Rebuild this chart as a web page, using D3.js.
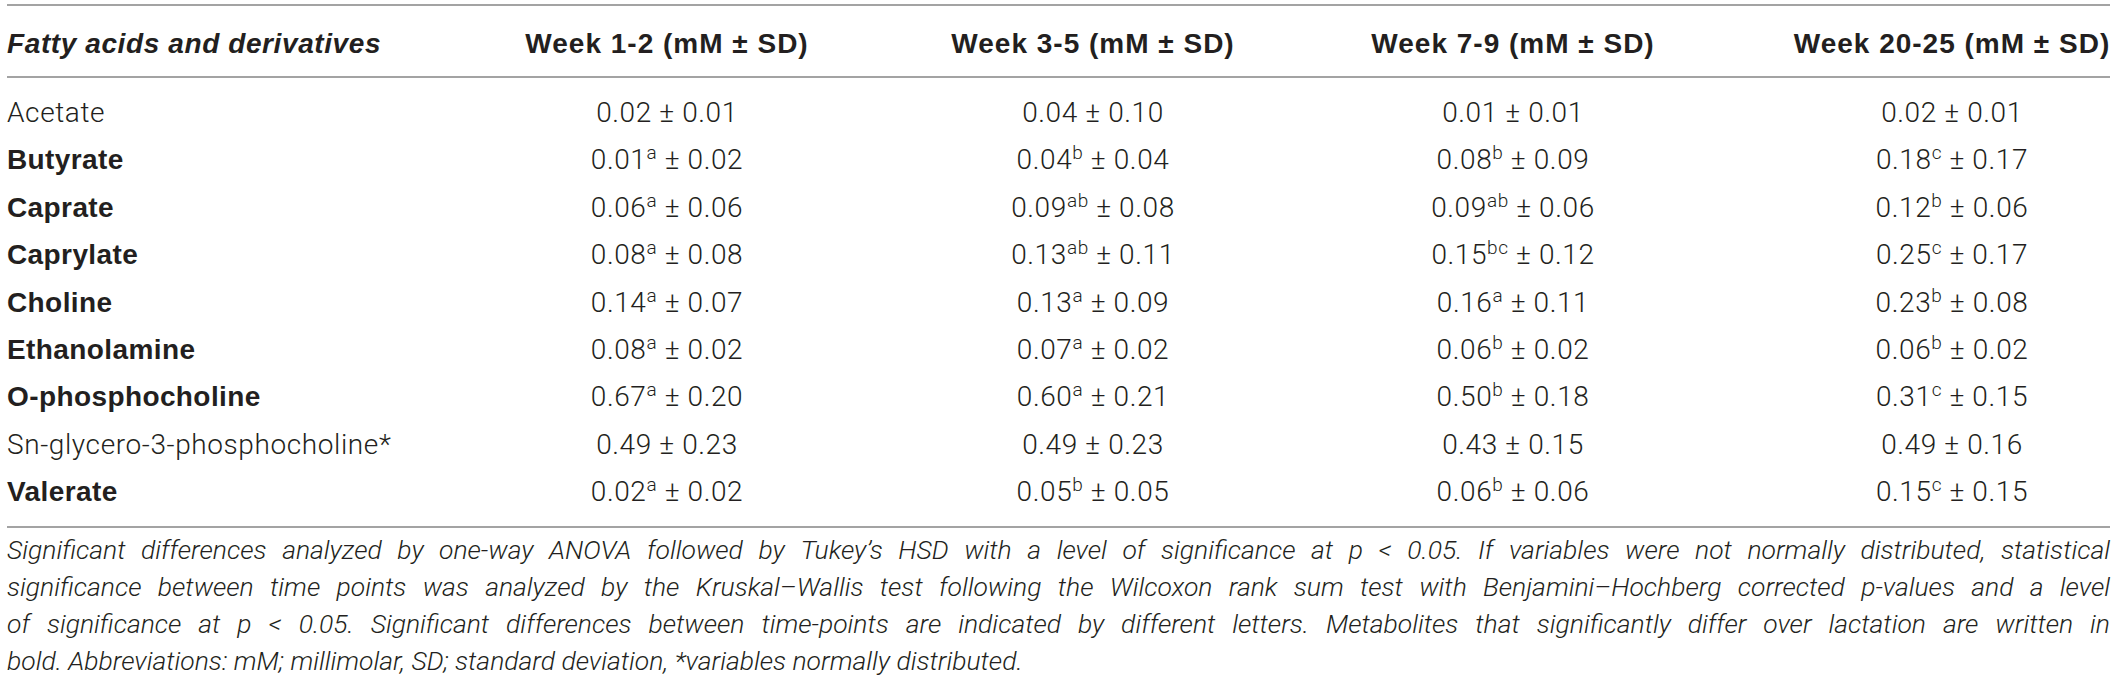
<!DOCTYPE html>
<html>
<head>
<meta charset="utf-8">
<script src="https://cdn.jsdelivr.net/npm/d3@7"></script>
<style>
  body { margin: 0; background: #fff; }
  svg { display: block; }
</style>
</head>
<body>
<svg width="2118" height="687"></svg>
<script>
// table content
const stubHeader = 'Fatty acids and derivatives';
const weekLabels = ['Week 1-2 (mM ± SD)', 'Week 3-5 (mM ± SD)', 'Week 7-9 (mM ± SD)', 'Week 20-25 (mM ± SD)'];
const metabolites = ['Acetate', 'Butyrate', 'Caprate', 'Caprylate', 'Choline', 'Ethanolamine',
    'O-phosphocholine', 'Sn-glycero-3-phosphocholine*', 'Valerate'];
const isSignificant = [false, true, true, true, true, true, true, false, true];

const meanWeek12 = [0.02, 0.01, 0.06, 0.08, 0.14, 0.08, 0.67, 0.49, 0.02];
const sdWeek12 = [0.01, 0.02, 0.06, 0.08, 0.07, 0.02, 0.20, 0.23, 0.02];
const letterWeek12 = ['', 'a', 'a', 'a', 'a', 'a', 'a', '', 'a'];

const meanWeek35 = [0.04, 0.04, 0.09, 0.13, 0.13, 0.07, 0.60, 0.49, 0.05];
const sdWeek35 = [0.10, 0.04, 0.08, 0.11, 0.09, 0.02, 0.21, 0.23, 0.05];
const letterWeek35 = ['', 'b', 'ab', 'ab', 'a', 'a', 'a', '', 'b'];

const meanWeek79 = [0.01, 0.08, 0.09, 0.15, 0.16, 0.06, 0.50, 0.43, 0.06];
const sdWeek79 = [0.01, 0.09, 0.06, 0.12, 0.11, 0.02, 0.18, 0.15, 0.06];
const letterWeek79 = ['', 'b', 'ab', 'bc', 'a', 'b', 'b', '', 'b'];

const meanWeek2025 = [0.02, 0.18, 0.12, 0.25, 0.23, 0.06, 0.31, 0.49, 0.15];
const sdWeek2025 = [0.01, 0.17, 0.06, 0.17, 0.08, 0.02, 0.15, 0.16, 0.15];
const letterWeek2025 = ['', 'c', 'b', 'c', 'b', 'b', 'c', '', 'c'];

const footnoteLines = [
    'Significant differences analyzed by one-way ANOVA followed by Tukey\u2019s HSD with a level of significance at p < 0.05. If variables were not normally distributed, statistical',
    'significance between time points was analyzed by the Kruskal\u2013Wallis test following the Wilcoxon rank sum test with Benjamini\u2013Hochberg corrected p-values and a level',
    'of significance at p < 0.05. Significant differences between time-points are indicated by different letters. Metabolites that significantly differ over lactation are written in',
    'bold. Abbreviations: mM; millimolar, SD; standard deviation, *variables normally distributed.'
];

function Start(){
    const svg = d3.select('svg');

    const ink = '#231f20';
    const rule = '#a3a3a3';
    const lightFont = 'Roboto, "Liberation Sans", sans-serif';
    const boldFont = '"Liberation Sans", Arial, sans-serif';
    const left = 7;
    const right = 2110;

    const columns = [
        {mean: meanWeek12, sd: sdWeek12, letter: letterWeek12},
        {mean: meanWeek35, sd: sdWeek35, letter: letterWeek35},
        {mean: meanWeek79, sd: sdWeek79, letter: letterWeek79},
        {mean: meanWeek2025, sd: sdWeek2025, letter: letterWeek2025}
    ];

    const x = d3.scaleOrdinal()
        .domain(d3.range(weekLabels.length))
        .range([667, 1093, 1513, 1952]);
    const y = d3.scaleLinear()
        .domain([0, metabolites.length - 1])
        .range([122, 501]);
    const fmt = d3.format('.2f');

    // rules
    svg.selectAll('line.rule')
        .data([5, 77, 527])
        .join('line')
        .attr('class', 'rule')
        .attr('x1', left)
        .attr('x2', right)
        .attr('y1', d => d)
        .attr('y2', d => d)
        .attr('stroke', rule)
        .attr('stroke-width', 2);

    // header
    svg.append('text')
        .attr('x', left)
        .attr('y', 53)
        .attr('font-family', boldFont)
        .attr('font-size', 28)
        .attr('font-weight', 'bold')
        .attr('font-style', 'italic')
        .attr('letter-spacing', 0.6)
        .attr('fill', ink)
        .text(stubHeader);

    svg.selectAll('text.week')
        .data(weekLabels)
        .join('text')
        .attr('class', 'week')
        .attr('x', (d, i) => x(i))
        .attr('y', 53)
        .attr('text-anchor', 'middle')
        .attr('font-family', boldFont)
        .attr('font-size', 28)
        .attr('font-weight', 'bold')
        .attr('letter-spacing', 1)
        .attr('fill', ink)
        .text(d => d);

    // row labels
    svg.selectAll('text.metabolite')
        .data(metabolites)
        .join('text')
        .attr('class', 'metabolite')
        .attr('x', left)
        .attr('y', (d, i) => y(i))
        .attr('font-family', (d, i) => isSignificant[i] ? boldFont : lightFont)
        .attr('font-size', 28)
        .attr('font-weight', (d, i) => isSignificant[i] ? 'bold' : 300)
        .attr('letter-spacing', (d, i) => isSignificant[i] ? 0.4 : 0.6)
        .attr('fill', ink)
        .text(d => d);

    // values
    columns.forEach((col, c) => {
        const cells = svg.selectAll('text.cell' + c)
            .data(metabolites.map((m, i) => ({i: i, mean: col.mean[i], sd: col.sd[i], letter: col.letter[i]})))
            .join('text')
            .attr('class', 'cell' + c)
            .attr('x', x(c))
            .attr('y', d => y(d.i))
            .attr('text-anchor', 'middle')
            .attr('font-family', lightFont)
            .attr('font-size', 28)
            .attr('font-weight', 300)
            .attr('letter-spacing', 0.6)
            .attr('fill', ink);

        cells.append('tspan').text(d => fmt(d.mean));
        cells.filter(d => d.letter)
            .append('tspan')
            .attr('dy', -10)
            .attr('font-size', 19)
            .text(d => d.letter);
        cells.append('tspan')
            .attr('dy', d => d.letter ? 10 : 0)
            .text(d => ' \u00b1 ' + fmt(d.sd));
    });

    // footnote, justified by hand
    const noteSize = 26.5;
    footnoteLines.forEach((line, k) => {
        const baseline = 559 + k * 37;
        const t = svg.append('text')
            .attr('y', baseline)
            .attr('font-family', lightFont)
            .attr('font-size', noteSize)
            .attr('font-weight', 300)
            .attr('font-style', 'italic')
            .attr('fill', ink);
        if (k === footnoteLines.length - 1) {
            t.attr('x', left).text(line);
            return;
        }
        const words = line.split(' ');
        const spans = words.map(w => t.append('tspan').text(w));
        const widths = spans.map(s => s.node().getComputedTextLength());
        const gap = Math.max(3, (right - left - d3.sum(widths)) / (words.length - 1));
        let cx = left;
        spans.forEach((s, j) => {
            s.attr('x', cx);
            cx += widths[j] + gap;
        });
    });
}
Start();
</script>
</body>
</html>
